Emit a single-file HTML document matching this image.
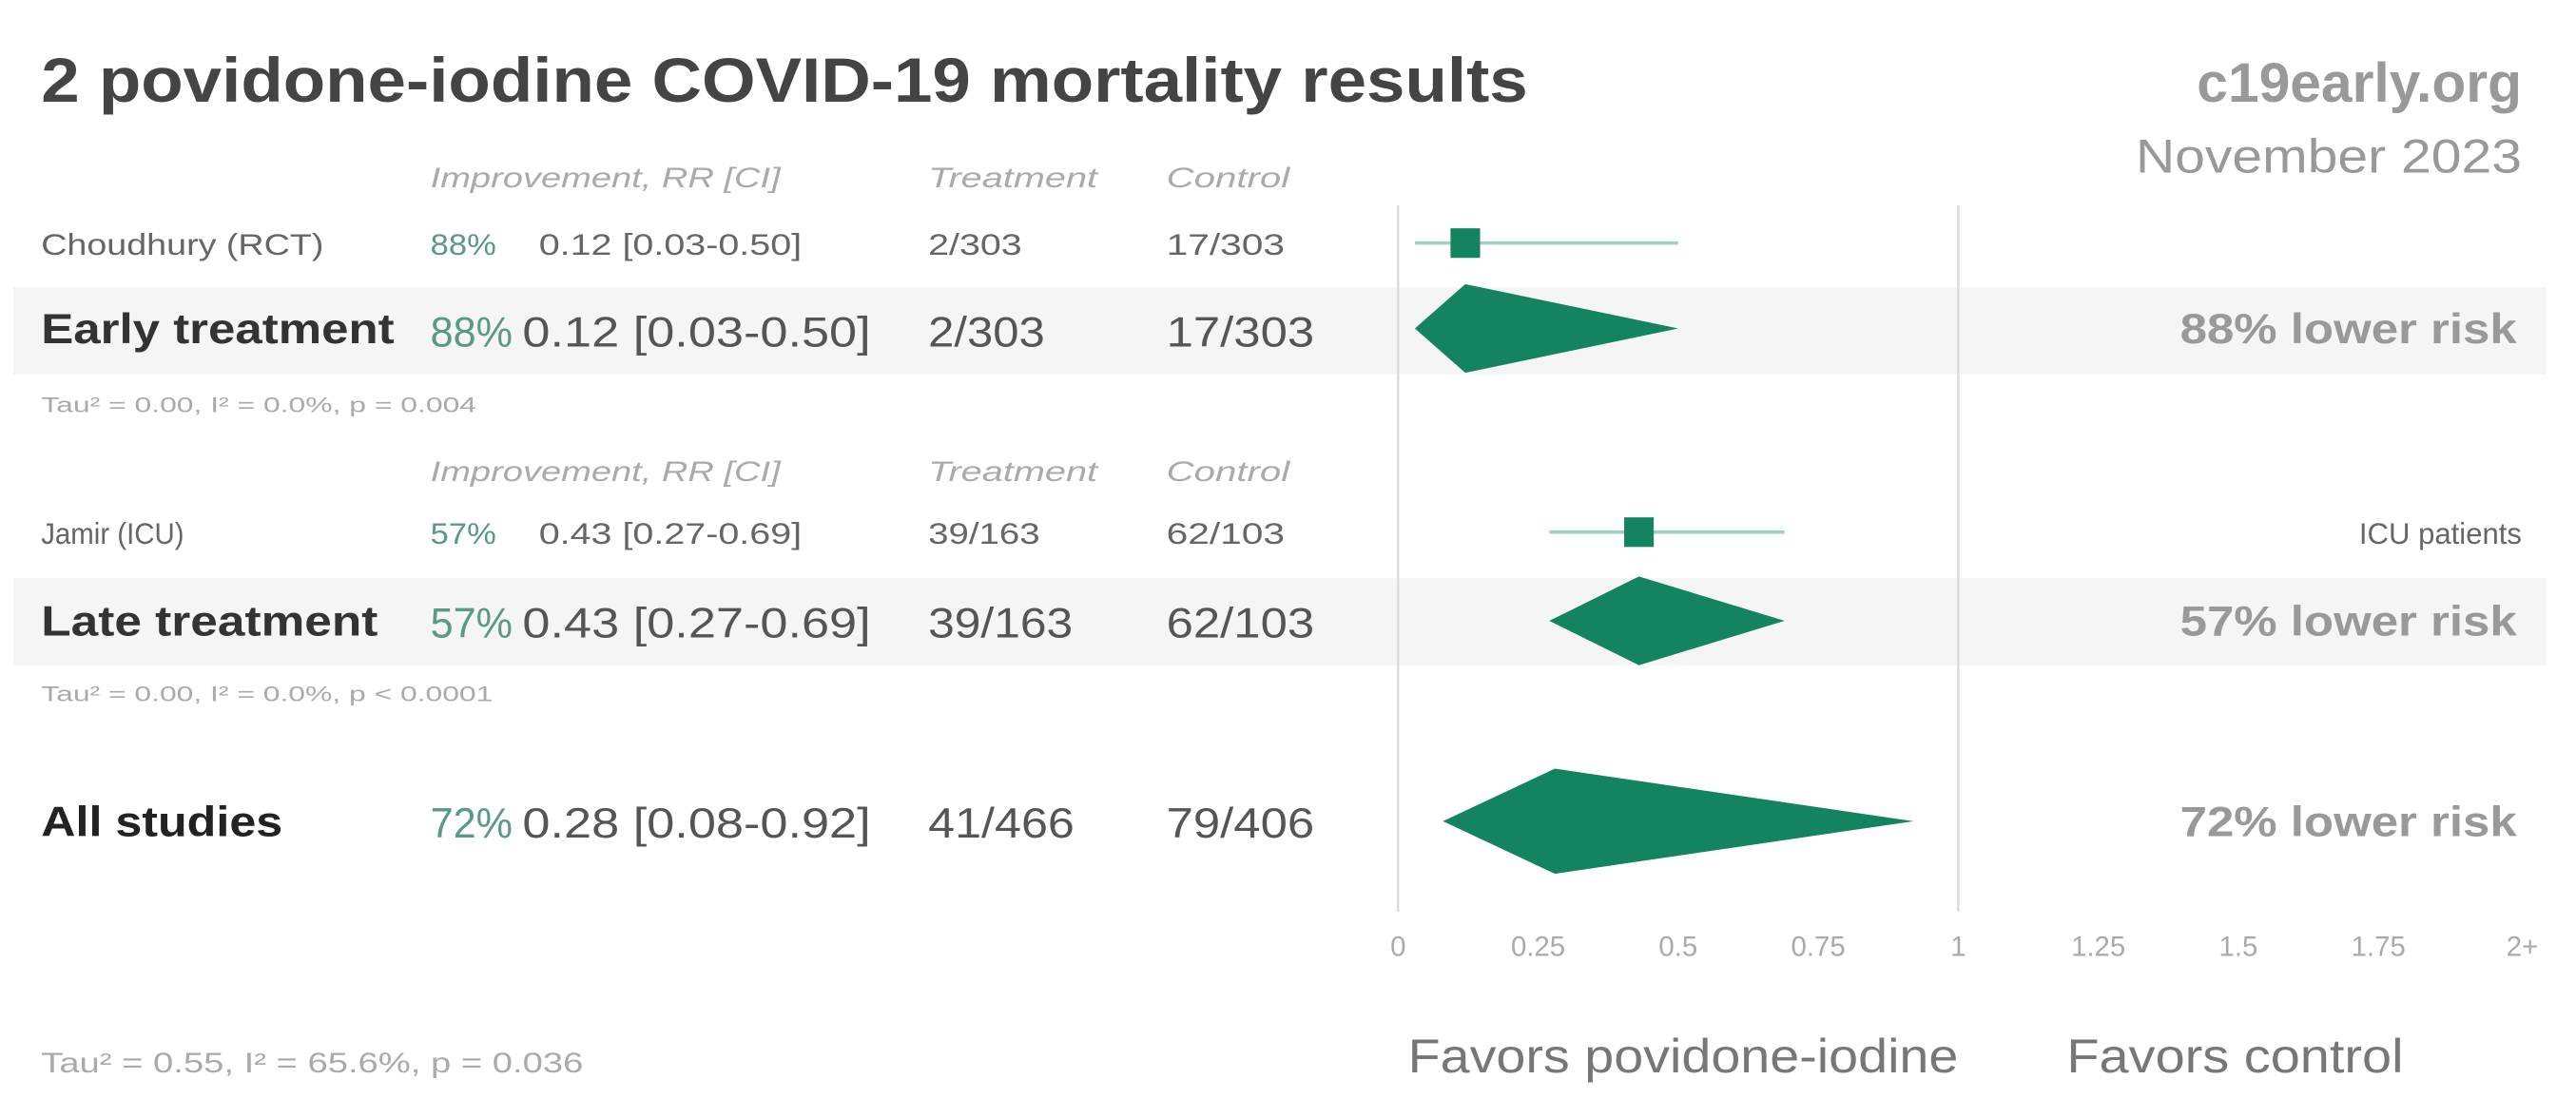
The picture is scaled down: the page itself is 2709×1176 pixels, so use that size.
<!DOCTYPE html>
<html><head><meta charset="utf-8"><style>
html,body{margin:0;padding:0;background:#fff;}
svg{display:block;font-family:"Liberation Sans",sans-serif;}
</style></head><body>
<svg id="chart" width="2709" height="1176" viewBox="0 0 1568 680.7" xmlns="http://www.w3.org/2000/svg">
<rect x="0" y="0" width="1568" height="680.7" fill="#fff"/>
<rect x="8" y="175" width="1542" height="53" fill="#f5f5f5"/>
<rect x="8" y="352" width="1542" height="53" fill="#f5f5f5"/>
<text x="25" y="62" font-size="38" font-weight="bold" fill="#444" textLength="905" lengthAdjust="spacingAndGlyphs">2 povidone-iodine COVID-19 mortality results</text>
<text x="1535" y="62" font-size="34" font-weight="bold" fill="#999" text-anchor="end">c19early.org</text>
<text x="1300" y="105" font-size="29" fill="#999" textLength="235" lengthAdjust="spacingAndGlyphs">November 2023</text>
<g id="hdr" font-size="17" font-style="italic" fill="#aaa">
<text x="262" y="114" textLength="213" lengthAdjust="spacingAndGlyphs">Improvement, RR [CI]</text>
<text x="565" y="114" textLength="103" lengthAdjust="spacingAndGlyphs">Treatment</text>
<text x="710" y="114" textLength="75" lengthAdjust="spacingAndGlyphs">Control</text>
<text x="262" y="293" textLength="213" lengthAdjust="spacingAndGlyphs">Improvement, RR [CI]</text>
<text x="565" y="293" textLength="103" lengthAdjust="spacingAndGlyphs">Treatment</text>
<text x="710" y="293" textLength="75" lengthAdjust="spacingAndGlyphs">Control</text>
</g>
<g font-size="18" fill="#666">
<text x="25" y="155" textLength="172" lengthAdjust="spacingAndGlyphs">Choudhury (RCT)</text>
<text x="262" y="155" fill="#5a9a85" textLength="40" lengthAdjust="spacingAndGlyphs">88%</text>
<text x="328" y="155" textLength="160" lengthAdjust="spacingAndGlyphs">0.12 [0.03-0.50]</text>
<text x="565" y="155" textLength="57" lengthAdjust="spacingAndGlyphs">2/303</text>
<text x="710" y="155" textLength="72" lengthAdjust="spacingAndGlyphs">17/303</text>
<text x="25" y="331" textLength="87" lengthAdjust="spacingAndGlyphs">Jamir (ICU)</text>
<text x="262" y="331" fill="#5a9a85" textLength="40" lengthAdjust="spacingAndGlyphs">57%</text>
<text x="328" y="331" textLength="160" lengthAdjust="spacingAndGlyphs">0.43 [0.27-0.69]</text>
<text x="565" y="331" textLength="68" lengthAdjust="spacingAndGlyphs">39/163</text>
<text x="710" y="331" textLength="72" lengthAdjust="spacingAndGlyphs">62/103</text>
<text x="1535" y="331" text-anchor="end">ICU patients</text>
</g>
<g font-size="26" fill="#555">
<text x="25" y="209" font-weight="bold" fill="#333" textLength="215" lengthAdjust="spacingAndGlyphs">Early treatment</text>
<text x="262" y="211" fill="#5a9a85" textLength="50" lengthAdjust="spacingAndGlyphs">88%</text>
<text x="318" y="211" textLength="212" lengthAdjust="spacingAndGlyphs">0.12 [0.03-0.50]</text>
<text x="565" y="211" textLength="71" lengthAdjust="spacingAndGlyphs">2/303</text>
<text x="710" y="211" textLength="90" lengthAdjust="spacingAndGlyphs">17/303</text>
<text x="25" y="387" font-weight="bold" fill="#333" textLength="205" lengthAdjust="spacingAndGlyphs">Late treatment</text>
<text x="262" y="388" fill="#5a9a85" textLength="50" lengthAdjust="spacingAndGlyphs">57%</text>
<text x="318" y="388" textLength="212" lengthAdjust="spacingAndGlyphs">0.43 [0.27-0.69]</text>
<text x="565" y="388" textLength="88" lengthAdjust="spacingAndGlyphs">39/163</text>
<text x="710" y="388" textLength="90" lengthAdjust="spacingAndGlyphs">62/103</text>
<text x="25" y="509" font-weight="bold" fill="#222" textLength="147" lengthAdjust="spacingAndGlyphs">All studies</text>
<text x="262" y="510" fill="#5a9a85" textLength="50" lengthAdjust="spacingAndGlyphs">72%</text>
<text x="318" y="510" textLength="212" lengthAdjust="spacingAndGlyphs">0.28 [0.08-0.92]</text>
<text x="565" y="510" textLength="89" lengthAdjust="spacingAndGlyphs">41/466</text>
<text x="710" y="510" textLength="90" lengthAdjust="spacingAndGlyphs">79/406</text>
</g>
<g font-size="26" font-weight="bold" fill="#999">
<text x="1327" y="209" textLength="205" lengthAdjust="spacingAndGlyphs">88% lower risk</text>
<text x="1327" y="387" textLength="205" lengthAdjust="spacingAndGlyphs">57% lower risk</text>
<text x="1327" y="509" textLength="205" lengthAdjust="spacingAndGlyphs">72% lower risk</text>
</g>
<g font-size="13" fill="#aaa">
<text x="25" y="251" textLength="265" lengthAdjust="spacingAndGlyphs">Tau² = 0.00, I² = 0.0%, p = 0.004</text>
<text x="25" y="427" textLength="275" lengthAdjust="spacingAndGlyphs">Tau² = 0.00, I² = 0.0%, p &lt; 0.0001</text>
<text x="25" y="653" font-size="17" textLength="330" lengthAdjust="spacingAndGlyphs">Tau² = 0.55, I² = 65.6%, p = 0.036</text>
</g>
<text x="857" y="653" font-size="29" fill="#777" textLength="335" lengthAdjust="spacingAndGlyphs">Favors povidone-iodine</text>
<text x="1258" y="653" font-size="29" fill="#777" textLength="205" lengthAdjust="spacingAndGlyphs">Favors control</text>
<g id="marks"></g>
</svg>
<script>
const tickValues = [0, 0.25, 0.5, 0.75, 1, 1.25, 1.5, 1.75, 2];
const tickLabels = ["0", "0.25", "0.5", "0.75", "1", "1.25", "1.5", "1.75", "2+"];
const studyNames = ["Choudhury (RCT)", "Jamir (ICU)"];
const studyRR = [0.12, 0.43];
const studyLo = [0.03, 0.27];
const studyHi = [0.50, 0.69];
const poolNames = ["early", "late", "all"];
const poolRR = [0.12, 0.43, 0.28];
const poolLo = [0.03, 0.27, 0.08];
const poolHi = [0.50, 0.69, 0.92];

const NS = "http://www.w3.org/2000/svg";
const x = v => 851 + v * 341;
const studyY = [148, 324];
const poolY = [200, 378, 500];
const poolH = [27, 27, 32];
const g = document.getElementById('marks');
function mk(tag, attrs) { const e = document.createElementNS(NS, tag); for (const k in attrs) e.setAttribute(k, attrs[k]); g.appendChild(e); return e; }

let l = mk('line', {x1: x(0), x2: x(0), y1: 125, y2: 555, stroke: '#ddd', 'stroke-width': 1.5});


l = mk('line', {x1: x(1), x2: x(1), y1: 125, y2: 555, stroke: '#ddd', 'stroke-width': 1.5});



tickValues.forEach((v, i) => {
  const t = mk('text', {x: x(v), y: 582, 'font-size': 17, fill: '#aaa', 'text-anchor': i === tickValues.length - 1 ? 'end' : 'middle'});
  if (i === tickValues.length - 1) t.setAttribute('x', x(v) + 12);
  t.textContent = tickLabels[i];
  
  
});

studyRR.forEach((rr, i) => {
  const ci = mk('line', {x1: x(studyLo[i]), x2: x(studyHi[i]), y1: studyY[i], y2: studyY[i], stroke: '#9fd1bf', 'stroke-width': 2});
  
  
  const s = 18;
  const sq = mk('rect', {x: x(rr) - s / 2, y: studyY[i] - s / 2, width: s, height: s, fill: '#14835f'});
  
  
});

poolRR.forEach((rr, i) => {
  const y = poolY[i], h = poolH[i];
  const p = mk('polygon', {points: `${x(poolLo[i])},${y} ${x(rr)},${y - h} ${x(poolHi[i])},${y} ${x(rr)},${y + h}`, fill: '#14835f'});
  
  
});
</script>
</body></html>
